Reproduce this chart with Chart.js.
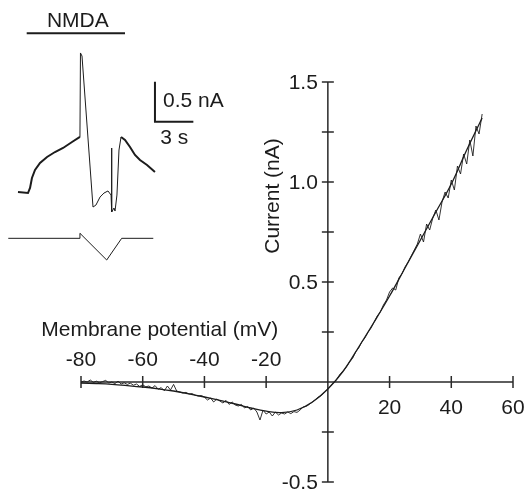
<!DOCTYPE html>
<html>
<head>
<meta charset="utf-8">
<script src="https://cdn.jsdelivr.net/npm/chart.js@4.4.0/dist/chart.umd.min.js"></script>
<style>
html, body { margin: 0; padding: 0; background: #fff; }
#wrap { position: relative; width: 526px; height: 491px; }
#iv { position: absolute; left: 0; top: 0; }
#inset { position: absolute; left: 0; top: 0; }
</style>
</head>
<body>
<div id="wrap">
	<canvas id="iv" width="526" height="491"></canvas>
	<canvas id="inset" width="250" height="270"></canvas>
</div>
<script>
// I-V relation: smooth fit
const fitVoltage = [-80, -75, -70, -65, -60, -55, -50, -45, -40, -35, -30, -25, -20, -15, -10, -5, 0, 5, 10, 15, 20, 25, 30, 35, 40, 45, 50];
const fitCurrent = [-0.005, -0.008, -0.012, -0.018, -0.025, -0.034, -0.045, -0.059, -0.075, -0.092, -0.11, -0.13, -0.146, -0.153, -0.14, -0.10, -0.035, 0.055, 0.175, 0.30, 0.43, 0.57, 0.71, 0.85, 0.99, 1.16, 1.32];

// I-V relation: recorded ramp current
const traceVoltage = [-80, -79, -78, -77, -76, -75, -74, -73, -72, -71, -70, -69, -68, -67, -66, -65, -64, -63, -62, -61,
	-60, -59, -58, -57, -56, -55, -54, -53, -52, -51, -50, -49, -48, -47, -46, -45, -44, -43, -42, -41,
	-40, -39, -38, -37, -36, -35, -34, -33, -32, -31, -30, -29, -28, -27, -26, -25, -24, -23, -22, -21,
	-20, -19, -18, -17, -16, -15, -14, -13, -12, -11, -10, -9, -8, -7, -6, -5, -4, -3, -2, -1,
	0, 1, 2, 3, 4, 5, 6, 7, 8, 9, 10, 11, 12, 13, 14, 15, 16, 17, 18, 19,
	20, 21, 22, 23, 24, 25, 26, 27, 28, 29, 30, 31, 32, 33, 34, 35, 36, 37, 38, 39,
	40, 41, 42, 43, 44, 45, 46, 47, 48, 49, 50];
const traceCurrent = [0.0, 0.005, 0.0, 0.01, -0.002, 0.004, -0.004, 0.002, 0.008, -0.005, 0.0, -0.008, 0.004, -0.01, -0.004, -0.012, -0.006, -0.016, -0.01, -0.022,
	-0.014, -0.024, -0.02, -0.03, -0.018, -0.036, -0.028, -0.044, -0.02, -0.04, -0.012, -0.045, -0.05, -0.055, -0.052, -0.06, -0.058, -0.066, -0.07, -0.068,
	-0.076, -0.09, -0.08, -0.1, -0.085, -0.095, -0.105, -0.092, -0.112, -0.1, -0.115, -0.12, -0.112, -0.13, -0.122, -0.14, -0.13, -0.15, -0.19, -0.14,
	-0.16, -0.15, -0.17, -0.15, -0.165, -0.155, -0.16, -0.15, -0.158, -0.148, -0.152, -0.14, -0.125, -0.122, -0.112, -0.1, -0.088, -0.074, -0.066, -0.05,
	-0.035, -0.018, 0.0, 0.015, 0.04, 0.055, 0.075, 0.1, 0.118, 0.15, 0.17, 0.2, 0.22, 0.248, 0.27, 0.3, 0.33, 0.35, 0.385, 0.41,
	0.45, 0.47, 0.46, 0.52, 0.54, 0.575, 0.6, 0.63, 0.66, 0.69, 0.74, 0.7, 0.79, 0.76, 0.82, 0.86, 0.81, 0.9, 0.95, 0.92,
	1.01, 0.96, 1.08, 1.04, 1.14, 1.09, 1.21, 1.13, 1.28, 1.24, 1.34];

const xTicks = [-80, -60, -40, -20, 20, 40, 60];
const yTicks = [-0.5, 0.5, 1.0, 1.5];
const yMinorTicks = [-0.25, 0.25, 0.75, 1.25];
const yTickLabels = ['-0.5', '0.5', '1.0', '1.5'];

// inset: current trace during NMDA application (time in s, current in nA)
const insetTime = [0, 0.78, 0.94, 1.09, 1.33, 1.72, 2.27, 2.89, 3.52, 4.22, 4.84, 4.88, 5.0, 5.86, 6.09, 6.41, 6.72, 7.03, 7.27, 7.30, 7.34, 7.5, 7.58, 7.73, 7.89, 8.05, 8.36, 8.75, 9.14, 9.53, 10.08, 10.7];
const insetCurrent = [0, -0.013, 0.05, 0.175, 0.275, 0.363, 0.438, 0.5, 0.55, 0.625, 0.688, 1.738, 1.7, -0.188, -0.163, -0.063, -0.013, 0.013, -0.038, 0.55, -0.25, -0.2, -0.238, -0.038, 0.525, 0.688, 0.65, 0.563, 0.463, 0.4, 0.338, 0.25];
// inset: command voltage (drawn in the same units, offset below)
const commandTime = [-0.76, 4.84, 4.84, 6.93, 8.10, 10.57];
const commandLevel = [-0.579, -0.579, -0.516, -0.85, -0.579, -0.579];
// NMDA application bar and scale bar
const nmdaTime = [0.68, 8.36];
const nmdaLevel = [1.984, 1.984];
const scaleTime = [10.7, 10.7, 13.7];
const scaleLevel = [1.379, 0.879, 0.879];

const FONT = '"Liberation Sans", Arial, Helvetica, sans-serif';
const INK = '#1c1c1c';

function pts(xs, ys) {
	return xs.map((v, i) => ({x: v, y: ys[i]}));
}

const crossAxes = {
	id: 'crossAxes',
	beforeDatasetsDraw(chart) {
		const ctx = chart.ctx;
		const x = chart.scales.x, y = chart.scales.y;
		const x0 = x.getPixelForValue(0), y0 = y.getPixelForValue(0);
		ctx.save();
		ctx.strokeStyle = '#2a2a2a';
		ctx.lineWidth = 1.5;
		ctx.beginPath();
		ctx.moveTo(x.getPixelForValue(-80), y0);
		ctx.lineTo(x.getPixelForValue(60), y0);
		ctx.moveTo(x0, y.getPixelForValue(-0.5));
		ctx.lineTo(x0, y.getPixelForValue(1.5));
		xTicks.forEach(v => {
			const px = x.getPixelForValue(v);
			ctx.moveTo(px, y0 - 6);
			ctx.lineTo(px, y0 + 6);
		});
		yTicks.concat(yMinorTicks).forEach(v => {
			const py = y.getPixelForValue(v);
			ctx.moveTo(x0 - 6, py);
			ctx.lineTo(x0 + 6, py);
		});
		ctx.stroke();

		ctx.fillStyle = INK;
		ctx.font = '21px ' + FONT;
		ctx.textAlign = 'center';
		ctx.textBaseline = 'middle';
		xTicks.forEach(v => {
			ctx.fillText(String(v), x.getPixelForValue(v), v < 0 ? y0 - 22 : y0 + 26);
		});
		ctx.textAlign = 'right';
		yTicks.forEach((v, i) => {
			ctx.fillText(yTickLabels[i], x0 - 10, y.getPixelForValue(v) + 1);
		});
		ctx.textAlign = 'center';
		ctx.fillText('Membrane potential (mV)', x.getPixelForValue(-54.5), y0 - 52);
		ctx.translate(x0 - 55, y.getPixelForValue(0.93));
		ctx.rotate(-Math.PI / 2);
		ctx.fillText('Current (nA)', 0, 0);
		ctx.restore();
	}
};

new Chart(document.getElementById('iv').getContext('2d'), {
	type: 'line',
	data: {
		datasets: [
			{
				data: pts(fitVoltage, fitCurrent),
				borderColor: INK,
				borderWidth: 1.3,
				pointRadius: 0,
				tension: 0.4,
				fill: false
			},
			{
				data: pts(traceVoltage, traceCurrent),
				borderColor: INK,
				borderWidth: 0.9,
				pointRadius: 0,
				tension: 0,
				fill: false
			}
		]
	},
	options: {
		responsive: false,
		animation: false,
		events: [],
		layout: {padding: {left: 81, right: 13, top: 82, bottom: 9}},
		plugins: {legend: {display: false}, tooltip: {enabled: false}},
		scales: {
			x: {type: 'linear', min: -80, max: 60, display: false},
			y: {type: 'linear', min: -0.5, max: 1.5, display: false}
		}
	},
	plugins: [crossAxes]
});

const insetText = {
	id: 'insetText',
	afterDatasetsDraw(chart) {
		const ctx = chart.ctx;
		const x = chart.scales.x, y = chart.scales.y;
		ctx.save();
		ctx.fillStyle = INK;
		ctx.font = '21px ' + FONT;
		ctx.textBaseline = 'middle';
		ctx.textAlign = 'center';
		ctx.fillText('NMDA', (x.getPixelForValue(nmdaTime[0]) + x.getPixelForValue(nmdaTime[1])) / 2 + 2, y.getPixelForValue(nmdaLevel[0]) - 12);
		ctx.textAlign = 'left';
		ctx.fillText('0.5 nA', x.getPixelForValue(scaleTime[0]) + 8, y.getPixelForValue(1.129));
		ctx.textAlign = 'center';
		ctx.fillText('3 s', (x.getPixelForValue(scaleTime[1]) + x.getPixelForValue(scaleTime[2])) / 2, y.getPixelForValue(scaleLevel[1]) + 17);
		ctx.restore();
	}
};

new Chart(document.getElementById('inset').getContext('2d'), {
	type: 'line',
	data: {
		datasets: [
			{
				data: pts(insetTime, insetCurrent),
				borderColor: INK,
				borderWidth: 1,
				pointRadius: 0,
				tension: 0,
				segment: {
					borderWidth: c => (c.p0.parsed.x < 4.8 || c.p0.parsed.x >= 8.0) ? 2 : 1
				}
			},
			{
				data: pts(commandTime, commandLevel),
				borderColor: INK,
				borderWidth: 1,
				pointRadius: 0,
				tension: 0
			},
			{
				data: pts(nmdaTime, nmdaLevel),
				borderColor: INK,
				borderWidth: 2,
				pointRadius: 0
			},
			{
				data: pts(scaleTime, scaleLevel),
				borderColor: INK,
				borderWidth: 2,
				pointRadius: 0,
				tension: 0
			}
		]
	},
	options: {
		responsive: false,
		animation: false,
		events: [],
		layout: {padding: 0},
		plugins: {legend: {display: false}, tooltip: {enabled: false}},
		scales: {
			x: {type: 'linear', min: -1.406, max: 18.125, display: false},
			y: {type: 'linear', min: -0.975, max: 2.4, display: false}
		}
	},
	plugins: [insetText]
});
</script>
</body>
</html>
